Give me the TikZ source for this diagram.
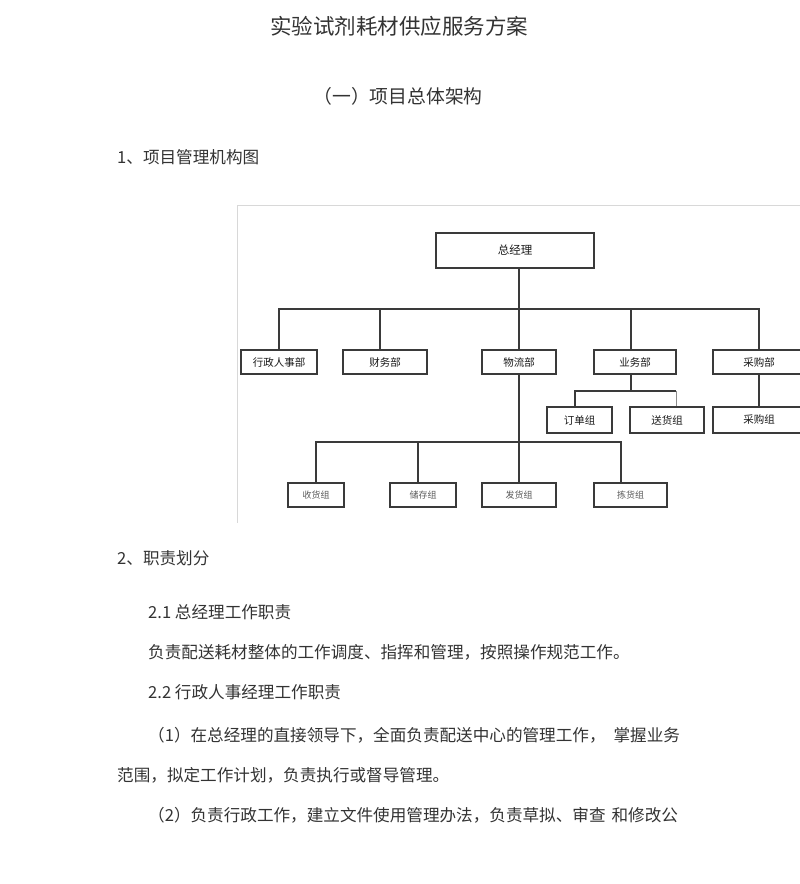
\documentclass[tikz,border=0pt]{standalone}
\usepackage{fontspec}
\setmainfont{Noto Sans CJK SC}
\definecolor{txt}{HTML}{333333}
\definecolor{ln}{HTML}{3A3A3A}
\definecolor{frm}{HTML}{D8D8D8}
\begin{document}
\begin{tikzpicture}[x=1pt,y=-1pt,
  box/.style={draw=ln, line width=1.1pt, inner sep=0pt, fill=white, text=black!90},
  bigbox/.style={box, font=\fontsize{11.5}{13}\selectfont},
  midbox/.style={box, minimum height=24pt, font=\fontsize{10.5}{12}\selectfont},
  lowbox/.style={box, minimum height=24pt, text=black!65, font=\fontsize{9}{11}\selectfont},
  conn/.style={draw=ln, line width=1.1pt},
  para/.style={anchor=west, inner sep=0pt, text=txt, font=\fontsize{16.6}{18}\selectfont}]
\useasboundingbox (0,0) rectangle (800,884);
\fill[white] (0,0) rectangle (800,884);

% headings
\node[inner sep=0pt, text=txt, font=\fontsize{21.5}{24}\selectfont] (title) at (399,26) {实验试剂耗材供应服务方案};
\node[inner sep=0pt, text=txt, font=\fontsize{18.8}{20}\selectfont] (sub) at (398,96) {（一）项目总体架构};
\node[para] (h1) at (117,157) {1、项目管理机构图};

% frame of the chart picture
\draw[frm, line width=0.8pt] (237,205) -- (800,205);
\draw[frm, line width=1pt] (237,205) -- (237,523);

% chart boxes
\node[bigbox, minimum width=158pt, minimum height=35pt] (gm) at (515,250.5) {总经理};
\node[midbox, minimum width=76pt] (hr) at (279,362) {行政人事部};
\node[midbox, minimum width=84pt] (fin) at (385,362) {财务部};
\node[midbox, minimum width=74pt] (log) at (519,362) {物流部};
\node[midbox, minimum width=82pt] (biz) at (635,362) {业务部};
\node[midbox, minimum width=92pt] (pur) at (759,362) {采购部};
\node[midbox, minimum width=65pt, minimum height=26pt] (ord) at (579.5,420) {订单组};
\node[midbox, minimum width=74pt, minimum height=26pt] (del) at (667,420) {送货组};
\node[midbox, minimum width=92pt, minimum height=26pt] (pg) at (759,420) {采购组};
\node[lowbox, minimum width=56pt] (rcv) at (316,495) {收货组};
\node[lowbox, minimum width=66pt] (sto) at (423,495) {储存组};
\node[lowbox, minimum width=74pt] (shp) at (519,495) {发货组};
\node[lowbox, minimum width=73pt] (pick) at (630.5,495) {拣货组};

% bus coordinates
\coordinate (bus1) at (519,309);
\coordinate (bus2) at (631,391);
\coordinate (bus3) at (519,442);

% top level connectors
\draw[conn] (gm.south -| log.north) -- (log.north);
\draw[conn] (hr.north) |- (bus1) -| (pur.north);
\draw[conn] ([xshift=-5pt]fin.north) -- ([xshift=-5pt]fin.north |- bus1);
\draw[conn] ([xshift=-4pt]biz.north) -- ([xshift=-4pt]biz.north |- bus1);

% 业务部 sub connectors
\draw[conn] ([xshift=-4pt]biz.south) -- (bus2);
\draw[conn] ([xshift=-4.5pt]ord.north) |- (bus2);
\draw[conn] (bus2) -- ([xshift=9pt]del.north |- bus2);
\draw[draw=black!45, line width=1pt] ([xshift=9pt]del.north |- bus2) -- ([xshift=9pt]del.north);

% 采购部 connector
\draw[conn] (pur.south) -- (pg.north);

% 物流部 sub connectors
\draw[conn] (log.south) -- (shp.north);
\draw[conn] (rcv.north) |- (bus3) -- ([xshift=-9.5pt]pick.north |- bus3) -- ([xshift=-9.5pt]pick.north);
\draw[conn] ([xshift=-5pt]sto.north) -- ([xshift=-5pt]sto.north |- bus3);

% body text
\node[para] (h2) at (117,558) {2、职责划分};
\node[para] (p21) at (148,612) {2.1 总经理工作职责};
\node[para] (p21t) at (148,652) {负责配送耗材整体的工作调度、指挥和管理，按照操作规范工作。};
\node[para] (p22) at (148,692) {2.2 行政人事经理工作职责};
\node[para] (p1a) at (148,735) {（1）在总经理的直接领导下，全面负责配送中心的管理工作，\hspace{8pt}掌握业务};
\node[para] (p1b) at (117,775) {范围，拟定工作计划，负责执行或督导管理。};
\node[para] (p2a) at (148,815) {（2）负责行政工作，建立文件使用管理办法，负责草拟、审查\hspace{6pt}和修改公};
\end{tikzpicture}
\end{document}
